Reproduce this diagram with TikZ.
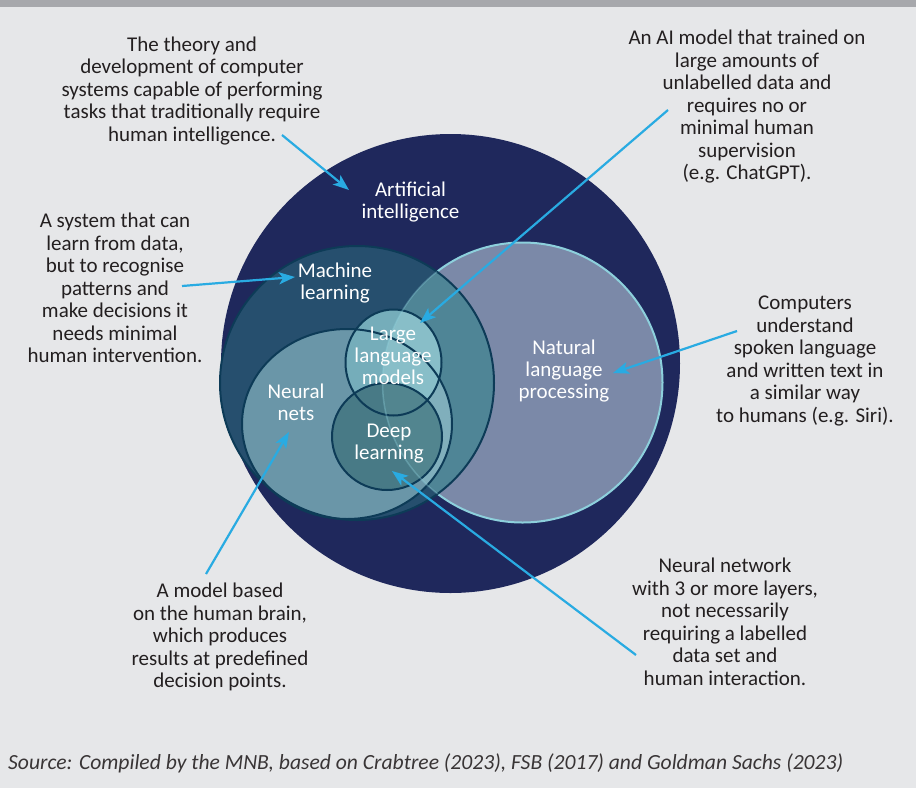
\documentclass[tikz,border=0pt]{standalone}
\usepackage{fontspec}
\setmainfont{Carlito}
\usepackage{tikz}
\usetikzlibrary{arrows.meta}
\definecolor{bgGray}{HTML}{E6E7E9}
\definecolor{barGray}{HTML}{A7A8AC}
\definecolor{aiNavy}{HTML}{1F285C}
\definecolor{mlTeal}{HTML}{264F6E}
\definecolor{nlpBlue}{HTML}{7B89A8}
\definecolor{mlNlp}{HTML}{4F8596}
\definecolor{nnTeal}{HTML}{6A96A8}
\definecolor{nnNlp}{HTML}{80AFBC}
\definecolor{llmTeal}{HTML}{75ADBA}
\definecolor{llmNlp}{HTML}{88BEC8}
\definecolor{dlTeal}{HTML}{487A86}
\definecolor{dlNlp}{HTML}{52858F}
\definecolor{rimDark}{HTML}{0D3B57}
\definecolor{rimLight}{HTML}{8DD0DC}
\definecolor{arrowBlue}{HTML}{29ABE2}
\definecolor{textDark}{HTML}{231F20}
\tikzstyle{note}=[
  align=center, text=textDark, inner sep=0pt, font=\fontsize{21}{22.5}\selectfont
]
\tikzstyle{venntext}=[
  align=center, text=white, inner sep=0pt, font=\fontsize{21}{22}\selectfont
]
\tikzstyle{rim}=[
  draw=rimDark, line width=2pt
]
\tikzset{
  pointer/.style={draw=arrowBlue, line width=2.2pt, -{Stealth[length=16pt,width=12pt,inset=4pt]}},
}
\newcommand{\mlShape}{(357,383) circle [radius=137pt]}
\newcommand{\nlpShape}{(522.5,382.5) circle [radius=140pt]}
\newcommand{\nnShape}{(347,424) ellipse [x radius=105pt, y radius=95pt]}
\newcommand{\llmShape}{(393.5,362.5) ellipse [x radius=48pt, y radius=53pt]}
\newcommand{\dlShape}{(387,436.5) ellipse [x radius=55pt, y radius=53.5pt]}

\begin{document}
\begin{tikzpicture}[x=1pt,y=-1pt]
  \fill[bgGray] (0,0) rectangle (916,788);
  \useasboundingbox (0,0) rectangle (916,788);
  \fill[barGray] (0,0) rectangle (916,7);

  % the sets
  \fill[aiNavy] (450.5,363.5) circle [radius=229.5pt];
  \filldraw[fill=nlpBlue, draw=rimLight, line width=2pt] \nlpShape;
  \fill[mlTeal] \mlShape;
  \begin{scope}
    \clip \nlpShape;
    \fill[mlNlp] \mlShape;
  \end{scope}
  \fill[nnTeal] \nnShape;
  \begin{scope}
    \clip \nlpShape;
    \fill[nnNlp] \nnShape;
  \end{scope}
  \fill[llmTeal] \llmShape;
  \begin{scope}
    \clip \nlpShape;
    \fill[llmNlp] \llmShape;
  \end{scope}
  \fill[dlTeal] \dlShape;
  \begin{scope}
    \clip \nlpShape;
    \fill[dlNlp] \dlShape;
  \end{scope}
  \draw[rim] \mlShape;
  \draw[rim] \nnShape;
  \draw[rim] \llmShape;
  \draw[rim] \dlShape;
  \begin{scope}
    \clip \mlShape;
    \draw[rimLight, line width=1.5pt, opacity=0.35] \nlpShape;
  \end{scope}

  \node (ai) at (410.5,202) [venntext] {Artificial\\intelligence};
  \node (ml) at (335,283) [venntext] {Machine\\learning};
  \node (llm) at (393,356) [venntext] {Large\\language\\models};
  \node (nn) at (296,402) [venntext] {Neural\\nets};
  \node (dl) at (389,444) [venntext] {Deep\\learning};
  \node (nlp) at (564,371) [venntext] {Natural\\language\\processing};

  % explanations
  \node (aiNote) at (192,91) [note] {The theory and\\development of computer\\systems capable of performing\\tasks that traditionally require\\human intelligence.};
  \node (llmNote) at (747,107) [note] {An AI model that trained on\\large amounts of\\unlabelled data and\\requires no or\\minimal human\\supervision\\(e.g. ChatGPT).};
  \node (mlNote) at (115,288) [note] {A system that can\\learn from data,\\but to recognise\\patterns and\\make decisions it\\needs minimal\\human intervention.};
  \node (nlpNote) at (805,361) [note] {Computers\\understand\\spoken language\\and written text in\\a similar way\\to humans (e.g. Siri).};
  \node (nnNote) at (220,637) [note] {A model based\\on the human brain,\\which produces\\results at predefined\\decision points.};
  \node (dlNote) at (725,622) [note] {Neural network\\with 3 or more layers,\\not necessarily\\requiring a labelled\\data set and\\human interaction.};
  \node (source) at (8,769) [anchor=base west, inner sep=0pt, text=textDark!90, font=\fontsize{21.6}{22}\selectfont\itshape] {Source: Compiled by the MNB, based on Crabtree (2023), FSB (2017) and Goldman Sachs (2023)};

  \coordinate (aiFrom) at (282,135);
  \coordinate (aiTo) at (349,190);
  \coordinate (llmFrom) at (668,110);
  \coordinate (llmTo) at (420,323);
  \coordinate (mlFrom) at (182,286);
  \coordinate (mlTo) at (295,277);
  \coordinate (nlpFrom) at (737,331);
  \coordinate (nlpTo) at (613,373);
  \coordinate (nnFrom) at (206,574);
  \coordinate (nnTo) at (289,432);
  \coordinate (dlFrom) at (636,655);
  \coordinate (dlTo) at (392,471);

  \draw[pointer] (aiFrom) -- (aiTo);
  \draw[pointer] (llmFrom) -- (llmTo);
  \draw[pointer] (mlFrom) -- (mlTo);
  \draw[pointer] (nlpFrom) -- (nlpTo);
  \draw[pointer] (nnFrom) -- (nnTo);
  \draw[pointer] (dlFrom) -- (dlTo);
\end{tikzpicture}
\end{document}
